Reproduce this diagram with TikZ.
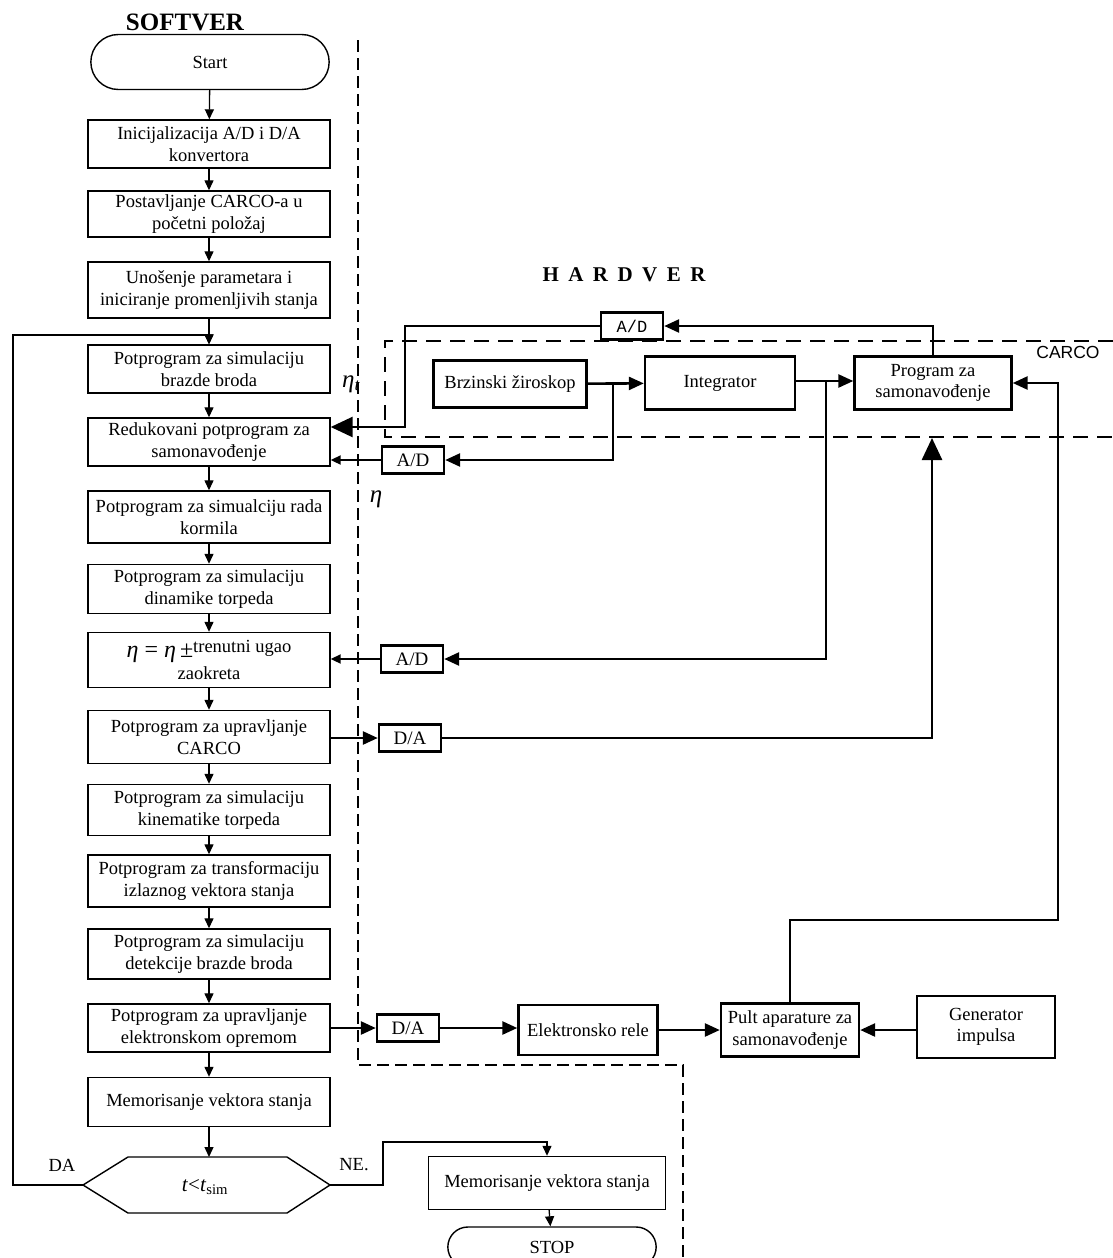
\documentclass[tikz,border=0pt]{standalone}
\usepackage{fontspec}
\setmainfont{Liberation Serif}
\newfontfamily\carcofont{Liberation Sans}
\newfontfamily\adfont{Liberation Mono}
\newfontfamily\spacedfont[LetterSpace=45]{Liberation Serif}
\usetikzlibrary{arrows.meta,positioning,shapes.misc}
\tikzset{
  flow/.style={-{Triangle[length=10pt,width=9pt]},line width=1.3pt},
  hwflow/.style={-{Triangle[length=15pt,width=13pt]},line width=2.6pt},
  bigflow/.style={-{Triangle[length=22pt,width=20pt]},line width=2.6pt},
  prog/.style={draw,line width=1.4pt,minimum width=242pt,minimum height=48pt,
               align=center,inner sep=1pt},
  hwbox/.style={draw,line width=2.4pt,align=center,minimum height=50pt},
  conv/.style={draw,line width=2.4pt,minimum width=62pt,minimum height=27pt,inner sep=1pt,
               font=\fontsize{19}{21}\selectfont},
  term/.style={draw,rounded rectangle,line width=1.4pt,minimum width=245pt,minimum height=55pt},
  etalabel/.style={font=\fontsize{25}{28}\selectfont\itshape},
  bound/.style={dash pattern=on 12pt off 6pt,line width=1.3pt},
  carcoline/.style={dash pattern=on 15pt off 9pt,line width=2.6pt}
}
\begin{document}
\begin{tikzpicture}[x=1pt,y=-1pt,font=\fontsize{18.5}{21.5}\selectfont]
  \useasboundingbox (0,0) rectangle (1113,1258);
  % softver
  \node[font=\fontsize{25}{27}\selectfont\bfseries] (soft) at (185,22) {SOFTVER};
  \node[term] (start) at (210,62) {Start};
  \node[prog] (init) at (209,144) {Inicijalizacija A/D i D/A\\konvertora};
  \node[prog,minimum height=46pt] (postav) at (209,214) {Postavljanje CARCO-a u\\početni položaj};
  \node[prog,minimum height=56pt] (unos) at (209,290) {Unošenje parametara i\\iniciranje promenljivih stanja};
  \node[prog] (brazda) at (209,369) {Potprogram za simulaciju\\brazde broda};
  \node[prog] (redu) at (209,442) {Redukovani potprogram za\\samonavođenje};
  \node[prog,minimum height=52pt] (korm) at (209,517) {Potprogram za simualciju rada\\kormila};
  \node[prog,minimum height=49pt] (dina) at (209,589) {Potprogram za simulaciju\\dinamike torpeda};
  \node[prog,minimum height=55pt] (eta) at (209,660)
    {{\fontsize{24}{26}\selectfont\textit{η} = \textit{η}\,±}\raisebox{5pt}{trenutni ugao}\\zaokreta};
  \node[prog,minimum height=53pt] (upr) at (209,737) {Potprogram za upravljanje\\CARCO};
  \node[prog,minimum height=51pt] (kine) at (209,810) {Potprogram za simulaciju\\kinematike torpeda};
  \node[prog,minimum height=52pt] (trans) at (209,881) {Potprogram za transformaciju\\izlaznog vektora stanja};
  \node[prog,minimum height=50pt] (detek) at (209,954) {Potprogram za simulaciju\\detekcije brazde broda};
  \node[prog] (elek) at (209,1028) {Potprogram za upravljanje\\elektronskom opremom};
  \node[prog,minimum height=49pt] (memo) at (209,1102) {Memorisanje vektora stanja};
  \node[font=\fontsize{21}{24}\selectfont] (uslov) at (205,1187) {\textit{t}<\textit{t}\textsubscript{sim}};
  \coordinate (uslovL) at (83,1185);
  \coordinate (uslovR) at (330,1185);
  \draw[line width=1.4pt] (uslovL) -- (128,1157) -- (287,1157) -- (uslovR)
    -- (287,1213) -- (128,1213) -- cycle;
  \node (da) at (62,1165) {DA};
  \node (ne) at (354,1165) {NE.};
  \node[prog,minimum width=237pt,minimum height=53pt] (memo2) at (547,1183) {Memorisanje vektora stanja};
  \node[term,minimum width=215pt,minimum height=40pt] (stop) at (552,1247) {STOP};
  \coordinate (loopC) at (13,335);
  \coordinate (neC) at (383,1142);

  \draw[flow] (start) -- (init);
  \draw[flow] (init) -- (postav);
  \draw[flow] (postav) -- (unos);
  \draw[flow] (unos) -- (brazda);
  \draw[flow] (brazda) -- (redu);
  \draw[flow] (redu) -- (korm);
  \draw[flow] (korm) -- (dina);
  \draw[flow] (dina) -- (eta);
  \draw[flow] (eta) -- (upr);
  \draw[flow] (upr) -- (kine);
  \draw[flow] (kine) -- (trans);
  \draw[flow] (trans) -- (detek);
  \draw[flow] (detek) -- (elek);
  \draw[flow] (elek) -- (memo);
  \draw[flow] (memo) -- (memo |- 0,1157);
  \draw[flow] (uslovL) -| (loopC) -| (brazda.north);
  \draw[flow] (uslovR) -| (neC) -| (memo2.north);
  \draw[flow] (memo2) -- (stop);

  % hardver
  \node[font=\fontsize{21}{24}\selectfont\bfseries\spacedfont] (hard) at (624,275) {HARDVER};
  \node[hwbox,minimum width=153pt,minimum height=47pt] (ziro) at (510,384) {Brzinski žiroskop};
  \node[hwbox,minimum width=150pt,minimum height=53pt] (integ) at (720,383) {Integrator};
  \node[hwbox,minimum width=157pt,minimum height=53pt] (samo) at (933,383) {Program za\\samonavođenje};
  \node[conv,font=\fontsize{17}{19}\selectfont\adfont] (adT) at (632,326) {A/D};
  \node[conv] (adZ) at (413,460) {A/D};
  \node[conv] (adI) at (412,659) {A/D};
  \node[conv] (daC) at (410,738) {D/A};
  \node[conv] (daE) at (408,1028) {D/A};
  \node[hwbox,minimum width=139pt] (rele) at (588,1030) {Elektronsko rele};
  \node[hwbox,minimum width=138pt,minimum height=53pt] (pult) at (790,1030) {Pult aparature za\\samonavođenje};
  \node[hwbox,minimum width=138pt,minimum height=62pt] (gen) at (986,1027) {Generator\\impulsa};
  \node[font=\fontsize{17.5}{20}\selectfont\carcofont] (carco) at (1068,352) {CARCO};
  \node[etalabel] (etat) at (351,384) {η\textsubscript{t}};
  \node[etalabel] (etal) at (376,499) {η};
  \coordinate (brZ) at (613,384);
  \coordinate (brI) at (826,381);
  \coordinate (etaT) at (405,427);
  \coordinate (samoIn) at (932,438);
  \coordinate (fbC) at (1058,920);

  \draw[hwflow] (ziro) -- (integ);
  \draw[hwflow] (integ.east |- brI) -- (samo.west |- brI);
  \draw[hwflow] (brZ) |- (adZ);
  \draw[flow,line width=2pt] (adZ) -- (adZ -| redu.east);
  \draw[hwflow] (samo.north) |- (adT);
  \draw[bigflow] (adT) -| (etaT) -- (etaT -| redu.east);
  \draw[hwflow] (brI) |- (adI);
  \draw[flow,line width=2pt] (adI) -- (adI -| eta.east);
  \draw[hwflow] (upr.east |- daC) -- (daC);
  \draw[bigflow] (daC) -| (samoIn);
  \draw[hwflow] (elek.east |- daE) -- (daE);
  \draw[hwflow] (daE) -- (daE -| rele.west);
  \draw[hwflow] (rele) -- (pult);
  \draw[hwflow] (gen.west |- pult) -- (pult);
  \draw[hwflow] (pult.north) |- (fbC) |- (samo.east);

  % granice
  \draw[bound] (358,40) -- (358,1065) -- (683,1065) -- (683,1258);
  \draw[carcoline] (1113,341) -| (385,437) -- (1113,437);
\end{tikzpicture}
\end{document}
